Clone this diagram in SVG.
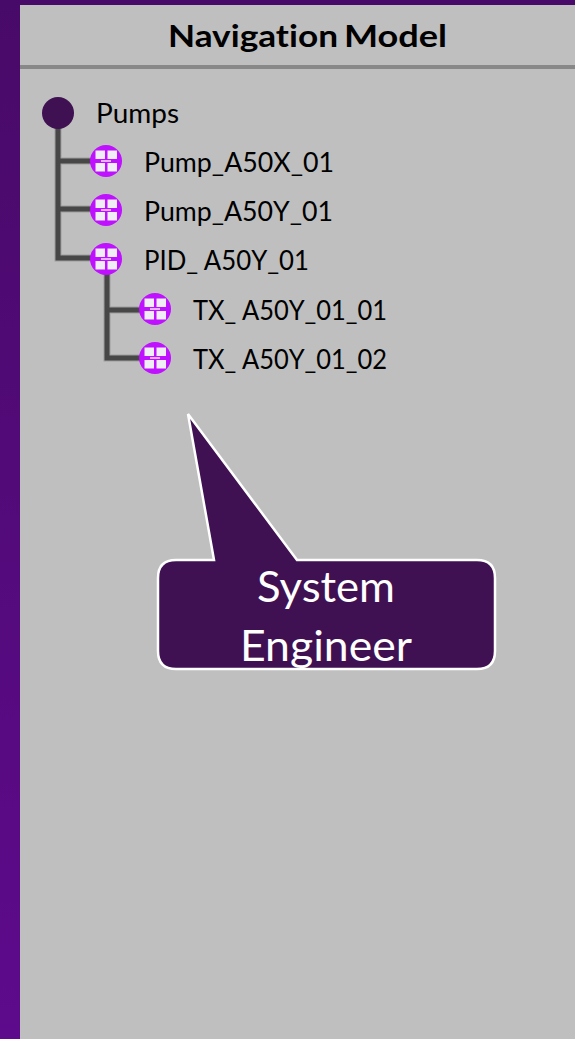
<svg xmlns="http://www.w3.org/2000/svg" width="575" height="1039" viewBox="0 0 575 1039">
<style>
.l{font-family:Lato,"Open Sans",sans-serif;font-size:26px;fill:#000}
.c{font-family:Lato,"Open Sans",sans-serif;font-size:42px;fill:#fff;text-anchor:middle}
.t{font-family:Lato,"Open Sans",sans-serif;font-size:31px;font-weight:700;fill:#000;font-variant-ligatures:none}
.e{fill:none;stroke:#8a8a8a;stroke-width:7}
.i{fill:none;stroke:#474747;stroke-width:5}
.b{fill:#bf10ff}
.w{fill:#eeeef4}
</style>
<defs>
<linearGradient id="bg" x1="0" y1="0" x2="0" y2="1"><stop offset="0" stop-color="#480a68"/><stop offset="1" stop-color="#5e0a8c"/></linearGradient>
<g id="ic"><circle r="16" class="b"/><rect x="-10.500" y="-10.500" width="9.500" height="8.500" class="w"/><rect x="1.500" y="-10.500" width="9.500" height="8.500" class="w"/><rect x="-10.500" y="2" width="9.500" height="8.500" class="w"/><rect x="1.500" y="2" width="9.500" height="8.500" class="w"/><rect x="-5" y="-1" width="10" height="2" fill="#e6b0ff"/></g>
</defs>
<rect width="575" height="1039" fill="url(#bg)"/>
<rect x="20" y="5" width="555" height="1034" fill="#bfbfbf"/>
<rect x="20" y="65" width="555" height="4" fill="#888"/>
<text class="t" y="47"><tspan x="168" textLength="170" lengthAdjust="spacingAndGlyphs">Navigation</tspan> <tspan x="344" textLength="103" lengthAdjust="spacingAndGlyphs">Model</tspan></text>
<g id="connectors">
<path class="e" d="M58 125V258H92M58 161H92M58 209H92M107 270V358H140M107 310H140" stroke-opacity="0.6"/>
<path class="i" d="M58 125V258H92M58 161H92M58 209H92M107 270V358H140M107 310H140"/>
</g>
<g id="n-pumps"><circle cx="58" cy="113" r="16" fill="#3f1152"/><text class="l" x="96" y="123" textLength="83" lengthAdjust="spacingAndGlyphs">Pumps</text></g>
<g id="n-a50x"><use href="#ic" x="106" y="161"/><text class="l" x="144" y="172" textLength="190" lengthAdjust="spacingAndGlyphs">Pump_A50X_01</text></g>
<g id="n-a50y"><use href="#ic" x="106" y="210"/><text class="l" x="144" y="221" textLength="189" lengthAdjust="spacingAndGlyphs">Pump_A50Y_01</text></g>
<g id="n-pid"><use href="#ic" x="106" y="259"/><text class="l" x="144" y="270" textLength="165" lengthAdjust="spacingAndGlyphs">PID_ A50Y_01</text></g>
<g id="n-tx1"><use href="#ic" x="155" y="309"/><text class="l" x="193" y="320" textLength="194" lengthAdjust="spacingAndGlyphs">TX_ A50Y_01_01</text></g>
<g id="n-tx2"><use href="#ic" x="155" y="358"/><text class="l" x="193" y="369" textLength="194" lengthAdjust="spacingAndGlyphs">TX_ A50Y_01_02</text></g>
<g id="callout">
<path d="M188 414L214 560H176Q158 560 158 578V651Q158 669 176 669H477Q495 669 495 651V578Q495 560 477 560H297Z" fill="#3f1152" stroke="#fff" stroke-width="2.500"/>
<text class="c" x="326" y="602" textLength="138" lengthAdjust="spacingAndGlyphs">System</text>
<text class="c" x="326" y="661" textLength="172" lengthAdjust="spacingAndGlyphs">Engineer</text>
</g>
</svg>
